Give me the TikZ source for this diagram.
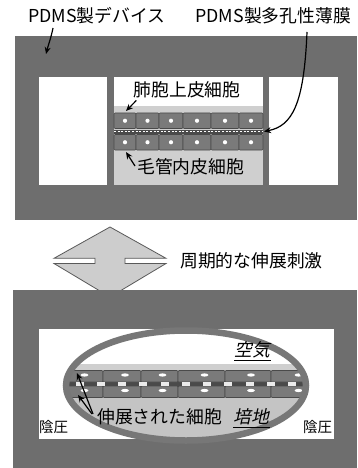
\documentclass[tikz,border=0pt]{standalone}
\usepackage{fontspec}
\setmainfont{Noto Sans CJK JP}
\newfontfamily\slantedjp[FakeSlant=0.22]{Noto Sans CJK JP}
\usetikzlibrary{arrows.meta}
\definecolor{blockgray}{HTML}{6E6E6E}
\definecolor{ringgray}{HTML}{777777}
\definecolor{cellgray}{HTML}{7A7A7A}
\definecolor{celledge}{HTML}{4A4A4A}
\definecolor{bandgray}{HTML}{CFCFCF}
\definecolor{mediumgray}{HTML}{C4C4C4}
\definecolor{arrowfill}{HTML}{CDCDCD}
\tikzset{
  label/.style={font=\fontsize{17.8}{17.8}\selectfont, inner sep=0pt, text=black},
  smalllabel/.style={font=\fontsize{14.5}{14.5}\selectfont, inner sep=0pt, text=black},
  cellbox/.style={draw=celledge, fill=cellgray, line width=0.7pt, rounded corners=1pt},
  nucleus/.style={fill=white, draw=none},
  pointer/.style={-{Stealth[length=7pt,width=6pt]}, line width=1.2pt, black},
}
\begin{document}
\begin{tikzpicture}[x=1pt,y=-1pt]
\useasboundingbox (0,0) rectangle (357,468);
\fill[white] (0,0) rectangle (357,468);

% ---------- resting device ----------
\fill[blockgray] (15,36) rectangle (357,220);
\fill[white] (39,77) rectangle (107,185);
\fill[white] (114,77) rectangle (263,185);
\fill[white] (269,77) rectangle (338,185);
\fill[bandgray] (114,106) rectangle (263,185);

% porous membrane
\fill[celledge] (114,129.5) rectangle (263,133.5);
\draw[white, line width=1.8pt, dash pattern=on 2pt off 1.6pt] (114,131.5) -- (263,131.5);
\coordinate (memE) at (264,131.5);

% epithelial (upper) and endothelial (lower) cells
\foreach \a/\b [count=\i] in {114/136,136/159,159/183,183/211,211/239,239/263}{
  \draw[cellbox] (\a,113) rectangle (\b,128.5);
  \node[inner sep=0pt, minimum size=0pt] (u\i) at ({(\a+\b)/2},120.75) {};
  \fill[nucleus] (u\i) circle (2.1);
  \draw[cellbox] (\a,134.5) rectangle (\b,150);
  \node[inner sep=0pt, minimum size=0pt] (l\i) at ({(\a+\b)/2},142.25) {};
  \fill[nucleus] (l\i) circle (2.1);
}
\coordinate (u1tip) at (126,111);
\coordinate (l1tip) at (126,152);

% labels of the resting device
\node[label, anchor=west] (dev) at (28,16) {PDMS製デバイス};
\node[label, anchor=east] (mem) at (351,16) {PDMS製多孔性薄膜};
\node[label] (epi) at (187,90) {肺胞上皮細胞};
\node[label, anchor=west] (endo) at (137,167) {毛管内皮細胞};
\coordinate (devpt) at (46,54);

\draw[pointer] (53,28) .. controls (51,38) and (48,46) .. (devpt);
\draw[pointer] (307,32) .. controls (304,105) and (292,126) .. (memE);
\draw[pointer] (epi.south west) ++(3,2) -- (u1tip);
\draw[pointer] (endo.west) ++(-2,-1) -- (l1tip);

% ---------- cyclic stretch symbol ----------
\draw[fill=arrowfill, draw=black!65, line width=0.8pt, line join=miter]
  (110,227) -- (166,258.3) -- (125,258.3) -- (125,263.5) -- (166,263.5)
  -- (110,297) -- (54,263.5) -- (95,263.5) -- (95,258.3) -- (54,258.3) -- cycle;
\node[label, anchor=west] (stretch) at (180,261) {周期的な伸展刺激};

% ---------- stretched device ----------
\fill[blockgray] (13,290) rectangle (357,468);
\fill[white] (39,329) rectangle (334,439);

\begin{scope}
  \clip (186,385.5) ellipse [x radius=118, y radius=53];
  \fill[white] (60,320) rectangle (320,366);
  \fill[bandgray] (60,364) rectangle (320,371);
  \fill[mediumgray] (60,396) rectangle (320,450);
  \fill[celledge] (60,381.5) rectangle (320,386.5);
  \foreach \a/\b [count=\i] in {60/103,103/141,141/178,178/225,225/271,271/320}{
    \draw[cellbox] (\a,370.5) rectangle (\b,382);
    \node[inner sep=0pt, minimum size=0pt] (su\i) at ({(\a+\b)/2+3},375) {};
    \fill[nucleus] (su\i) ellipse [x radius=4, y radius=1.6];
    \draw[cellbox] (\a,386) rectangle (\b,397.5);
    \node[inner sep=0pt, minimum size=0pt] (sl\i) at ({(\a+\b)/2+3},390.5) {};
    \fill[nucleus] (sl\i) ellipse [x radius=4, y radius=1.6];
  }
  \foreach \x in {80,101,122,143,165,186,207,228,250,271,292}{
    \fill[white!92!black] (\x-4,382.3) rectangle (\x+4,385.7);
  }
\end{scope}
\draw[ringgray, line width=6.5pt] (186,385.5) ellipse [x radius=120, y radius=55];

\coordinate (cellA) at (77,373);
\coordinate (cellB) at (78,395);
\node[label, anchor=west] (stretched) at (97,417) {伸展された細胞};
\node[label, anchor=west] (air) at (234,350) {\slantedjp 空気};
\node[label, anchor=west] (medium) at (233,417) {\slantedjp 培地};
\draw[black, line width=0.8pt] (air.south west) ++(0,2) -- ++(37,0);
\draw[black, line width=0.8pt] (medium.south west) ++(0,2) -- ++(37,0);
\node[smalllabel, anchor=west] (negL) at (39,427) {陰圧};
\node[smalllabel, anchor=west] (negR) at (303,427) {陰圧};

\draw[pointer] (93,414) -- (cellA);
\draw[pointer] (92,414) -- (cellB);
\end{tikzpicture}
\end{document}
